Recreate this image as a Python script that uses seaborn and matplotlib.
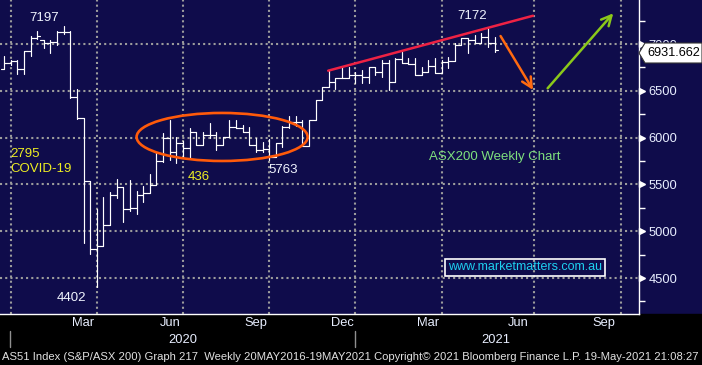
import matplotlib
matplotlib.use("Agg")
import matplotlib.pyplot as plt
from matplotlib.patches import Ellipse, Polygon, Rectangle, FancyArrowPatch
from matplotlib.lines import Line2D
import seaborn as sns
import pandas as pd
import numpy as np

# weekly OHLC, ASX200, late Dec 2019 -> 21 May 2021
opens = [6733, 6800, 6820, 6733, 6925, 7061, 7043, 7007, 7018, 7131,
         7131, 6430, 6207, 5537, 4814, 4843, 5064, 5387, 5476, 5238,
         5249, 5387, 5409, 5494, 5750, 6000, 5850, 5940, 5890, 6065,
         5921, 6028, 6028, 5921, 6010, 6117, 6103, 6065, 5921, 5868,
         5880, 5797, 5940, 6110, 6170, 6170, 5910, 6188, 6401, 6544,
         6597, 6634, 6634, 6669, 6669, 6650, 6751, 6704, 6794, 6597,
         6837, 6800, 6783, 6669, 6704, 6765, 6693, 6811, 6822, 6990,
         7061, 7043, 7014, 7071, 7007]
highs = [6872, 6825, 6825, 6925, 7085, 7139, 7043, 7043, 7139, 7197,
         7140, 6519, 6210, 5537, 5238, 5366, 5419, 5558, 5476, 5548,
         5430, 5483, 5612, 5850, 6050, 6188, 6007, 5960, 6103, 6065,
         6060, 6156, 6060, 6010, 6188, 6188, 6135, 6114, 5996, 5953,
         5985, 5940, 6120, 6230, 6230, 6188, 6188, 6401, 6544, 6722,
         6634, 6754, 6754, 6700, 6722, 6754, 6754, 6829, 6829, 6850,
         6915, 6850, 6850, 6754, 6829, 6850, 6829, 6861, 7011, 7064,
         7064, 7096, 7117, 7172, 7075]
lows = [6733, 6780, 6680, 6680, 6872, 7050, 6960, 6904, 6989, 7104,
        6425, 6200, 4875, 4757, 4402, 4843, 5064, 5352, 5099, 5216,
        5184, 5312, 5409, 5494, 5740, 5761, 5729, 5783, 5783, 5921,
        5921, 5996, 5868, 5921, 6007, 6103, 6060, 5921, 5847, 5847,
        5763, 5790, 5900, 6103, 6120, 5910, 5910, 6188, 6401, 6544,
        6519, 6634, 6634, 6584, 6584, 6584, 6669, 6650, 6509, 6597,
        6800, 6783, 6669, 6669, 6704, 6690, 6690, 6744, 6820, 6990,
        6904, 7011, 7011, 6968, 6918]
closes = [6800, 6820, 6733, 6925, 7061, 7085, 7007, 7018, 7131, 7131,
          6430, 6207, 5537, 4814, 4843, 5064, 5387, 5476, 5238, 5249,
          5387, 5409, 5494, 5750, 6000, 5850, 5940, 5890, 6065, 5921,
          6028, 6028, 5921, 6010, 6117, 6103, 6065, 5921, 5868, 5880,
          5797, 5940, 6110, 6170, 6170, 5910, 6188, 6401, 6544, 6597,
          6634, 6634, 6669, 6669, 6650, 6751, 6704, 6794, 6597, 6837,
          6800, 6783, 6669, 6704, 6765, 6693, 6811, 6822, 6990, 7061,
          7043, 7014, 7071, 7007, 6932]
last_price = 6931.662

# axis layout (week index on x)
month_ticks = [1, 6, 10, 14, 18, 23, 27, 32, 36, 40, 45, 49, 53, 58, 62,
               66, 71, 75, 80, 84, 88, 93]
month_label_pos = [12, 25, 38, 51, 64, 77.5, 90.5]
month_labels = ["Mar", "Jun", "Sep", "Dec", "Mar", "Jun", "Sep"]
quarter_grid = [1, 14, 27, 40, 53, 66, 80, 93]
year_labels = ["2020", "2021"]
y_ticks = [4500, 5000, 5500, 6000, 6500, 7000]
y_minor = [4250, 4750, 5250, 5750, 6250, 6750, 7250]

NAVY = "#0f0c4b"
TXT = "#e8eeff"
W, H = 702, 365


def fx(px):
    return px / W


def fy(py):
    return 1 - py / H


sns.set_theme(style="dark", rc={"axes.facecolor": NAVY, "figure.facecolor": NAVY})
plt.rcParams["font.family"] = ["Liberation Sans", "DejaVu Sans"]

fig = plt.figure(figsize=(7.02, 3.65), dpi=100, facecolor=NAVY)
fig.patches.append(Rectangle((0, 0), 1, 51 / H, transform=fig.transFigure,
                             color="black", zorder=-1))
ax = fig.add_axes([0, 51 / H, 639 / W, 314 / H])
ax.set_facecolor(NAVY)

# OHLC bars as short line segments
rows = []
for i, (o, h, l, c) in enumerate(zip(opens, highs, lows, closes)):
    rows += [(f"hl{i}", i, l), (f"hl{i}", i, h),
             (f"o{i}", i - 0.5, o), (f"o{i}", i, o),
             (f"c{i}", i, c), (f"c{i}", i + 0.5, c)]
bars = pd.DataFrame(rows, columns=["seg", "week", "price"])
sns.lineplot(data=bars, x="week", y="price", units="seg", estimator=None,
             sort=False, color="white", lw=0.85, ax=ax, zorder=3)

ax.set_xlim(-0.603, 95.78)
ax.set_ylim(4116, 7470)
ax.set_xlabel("")
ax.set_ylabel("")

grid_kw = dict(color="#9c9c9c", lw=1.5, ls=(0, (1, 1.5)), zorder=1)
for g in quarter_grid:
    ax.axvline(g, **grid_kw)
for g in y_ticks:
    ax.axhline(g, **grid_kw)

for s in ["left", "top"]:
    ax.spines[s].set_visible(False)
for s in ["right", "bottom"]:
    ax.spines[s].set_color("white")
    ax.spines[s].set_linewidth(1)

ax.yaxis.tick_right()
ax.set_yticks(y_ticks)
ax.set_yticklabels([str(v) for v in y_ticks])
ax.set_yticks(y_minor, minor=True)
ax.tick_params(axis="y", which="major", length=0, pad=7, labelsize=9.3,
               labelcolor=TXT)
ax.tick_params(axis="y", which="minor", length=4, width=1, color="white",
               direction="out")
ax.plot(np.full(len(y_ticks), 1.005), y_ticks, marker=">", ms=5,
        color="white", ls="none", transform=ax.get_yaxis_transform(),
        clip_on=False)

ax.set_xticks(month_ticks)
ax.set_xticklabels([])
ax.set_xticks(month_label_pos, minor=True)
ax.set_xticklabels(month_labels, minor=True)
ax.tick_params(axis="x", which="major", length=3, width=1, color="white",
               direction="out")
ax.tick_params(axis="x", which="minor", length=0, pad=2, labelsize=9.3,
               labelcolor=TXT)

# annotations
ax.add_patch(Ellipse((32.9, 6007), width=25.8, height=513, fill=False,
                     ec="#ff5a0a", lw=1.9, zorder=4))
ax.plot([48.9, 79.8], [6715, 7302], color="#ee2244", lw=1.8, zorder=4)
ax.add_patch(FancyArrowPatch((74.9, 7085), (79.8, 6509), arrowstyle="->",
                             mutation_scale=18, color="#ff6a10", lw=1.8,
                             shrinkA=0, shrinkB=0, zorder=4))
ax.add_patch(FancyArrowPatch((82, 6527), (91.9, 7328), arrowstyle="->",
                             mutation_scale=18, color="#8bc81a", lw=1.8,
                             shrinkA=0, shrinkB=0, zorder=4))

lab = dict(fontsize=9.5, va="center", zorder=5)
ax.text(6.0, 7278, "7197", color="#f0f4ff", ha="center", **lab)
ax.text(0.9, 5825, "2795", color="#eeee22", ha="left", **lab)
ax.text(0.9, 5665, "COVID-19", color="#eeee22", ha="left", **lab)
ax.text(29.4, 5580, "436", color="#eeee22", ha="center", **lab)
ax.text(10.1, 4287, "4402", color="#f0f4ff", ha="center", **lab)
ax.text(42.1, 5654, "5763", color="#f0f4ff", ha="center", **lab)
ax.text(70.6, 7299, "7172", color="#f0f4ff", ha="center", **lab)
ax.text(64.1, 5793, "ASX200 Weekly Chart", color="#7ee07e", ha="left", **lab)
ax.text(78.6, 4613, "www.marketmatters.com.au", color="#1ed0f0", ha="center",
        fontsize=9.0, va="center", zorder=5,
        bbox=dict(boxstyle="square,pad=0.22", fc="none", ec="white", lw=1.2))

# last price tag (partly covers the 7000 label, as in the source)
tag = [(639, 53), (645, 43), (702, 43), (702, 63), (645, 63)]
fig.patches.append(Polygon([(fx(x), fy(y)) for x, y in tag], closed=True,
                           transform=fig.transFigure, fc="white",
                           ec="#333333", lw=0.8, zorder=5))
fig.text(fx(647), fy(53), f"{last_price:.3f}", color="black", fontsize=9.2,
         va="center", ha="left", zorder=6)

# year row and footer
for x0 in [10, 355]:
    fig.add_artist(Line2D([fx(x0), fx(x0)], [fy(331), fy(347)],
                          color="#909090", lw=1))
for txt, px in zip(year_labels, [183, 496]):
    fig.text(fx(px), fy(340), txt, color=TXT, fontsize=9.3, ha="center",
             va="center")
fig.text(fx(2), fy(357),
         "AS51 Index (S&P/ASX 200) Graph 217  Weekly 20MAY2016-19MAY2021 "
         "Copyright\u00a9 2021 Bloomberg Finance L.P. 19-May-2021 21:08:27",
         color="#e0e0e0", fontsize=8.1, ha="left", va="center")

fig.savefig("out.png", dpi=100, facecolor=fig.get_facecolor())
